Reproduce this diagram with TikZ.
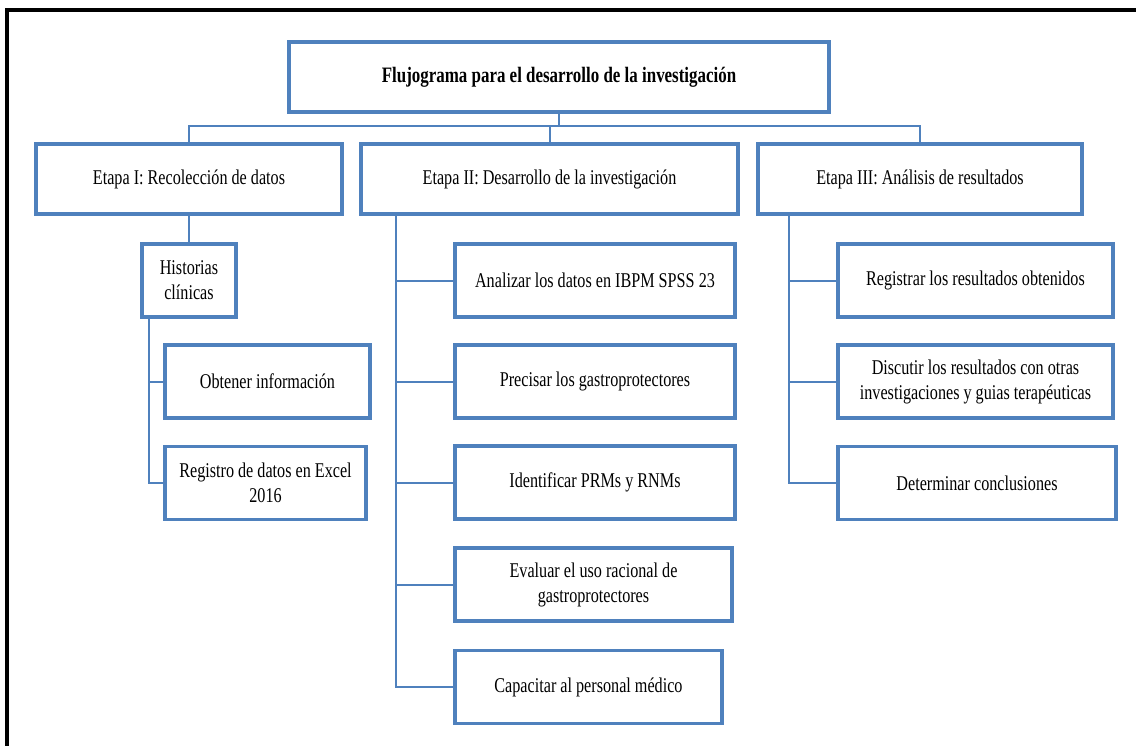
\documentclass[tikz,border=0pt]{standalone}
\usepackage{fontspec}
\setmainfont[FakeStretch=0.77]{Liberation Serif}
\definecolor{boxblue}{HTML}{4F81BD}

\begin{document}
\begin{tikzpicture}[x=0.75pt,y=-0.75pt,
    box/.style={draw=boxblue,line width=2.6pt,fill=white,inner sep=0pt,align=center,
      minimum height=54.75pt,font=\fontsize{15.75}{18.75}\selectfont},
    stage/.style={box,minimum height=52.5pt},
    link/.style={draw=boxblue,line width=1.5pt}]
      \useasboundingbox (0,0) rectangle (1136,746);
      \draw [line width=2.4pt] (7,746) -- (7,10) -- (1136,10);
      % title and the three stages
      \node[stage,minimum width=405pt,font=\fontsize{16.5}{19.5}\selectfont\bfseries] (title) at (559,77) {Flujograma para el desarrollo de la investigación};
      \node[stage,minimum width=229.5pt] (etapa1) at (189,179) {Etapa I: Recolección de datos};
      \node[stage,minimum width=282.75pt] (etapa2) at (549.5,179) {Etapa II: Desarrollo de la investigación};
      \node[stage,minimum width=243pt] (etapa3) at (920,179) {Etapa III: Análisis de resultados};
      \coordinate (bus) at (559,126);
      \draw[link] (title.south) -- (bus);
      \draw[link] (bus) -| (etapa1.north);
      \draw[link] (bus) -| (etapa2.north);
      \draw[link] (bus) -| (etapa3.north);
      % etapa I
      \node[box,minimum width=70.5pt] (hist) at (189,280.5) {Historias\\clínicas};
      \node[box,minimum width=153.75pt] (obtener) at (267.5,381.5) {Obtener información};
      \node[box,minimum width=150.75pt] (registro) at (265.5,483) {Registro de datos en Excel\\2016};
      \draw[link] (etapa1.south) -- (hist.north);
      \draw[link] ([xshift=6.75pt]hist.south west) |- (obtener.west);
      \draw[link] ([xshift=6.75pt]hist.south west) |- (registro.west);
      % etapa II
      \node[box,minimum width=210pt] (analizar) at (595,280.5) {Analizar los datos en IBPM SPSS 23};
      \node[box,minimum width=210pt] (precisar) at (595,381.5) {Precisar los gastroprotectores};
      \node[box,minimum width=210pt] (identificar) at (595,482.5) {Identificar PRMs y RNMs};
      \node[box,minimum width=207.75pt] (evaluar) at (593.5,584.5) {Evaluar el uso racional de\\gastroprotectores};
      \node[box,minimum width=200.25pt] (capacitar) at (588.5,687) {Capacitar al personal médico};
      \foreach \n in {analizar,precisar,identificar,evaluar,capacitar}
        \draw[link] ([xshift=27.75pt]etapa2.south west) |- (\n.west);
      % etapa III
      \node[box,minimum width=206.25pt] (registrar) at (975.5,280.5) {Registrar los resultados obtenidos};
      \node[box,minimum width=206.25pt] (discutir) at (975.5,381.5) {Discutir los resultados con otras\\investigaciones y guias terapéuticas};
      \node[box,minimum width=208.5pt] (determinar) at (977,483) {Determinar conclusiones};
      \foreach \n in {registrar,discutir,determinar}
        \draw[link] ([xshift=24.75pt]etapa3.south west) |- (\n.west);
\end{tikzpicture}
\end{document}
